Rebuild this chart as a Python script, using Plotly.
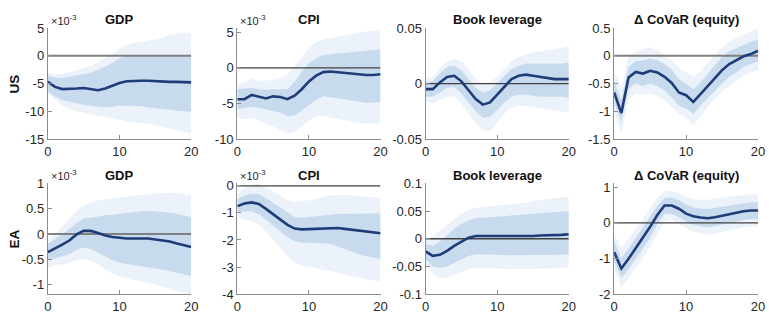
import plotly.graph_objects as go

# horizon
horizon = list(range(21))

# ---------------- US ----------------
us_gdp_med = [-4.7, -5.6, -6.0, -6.0, -5.9, -5.8, -6.0, -6.2, -5.9, -5.4, -4.9, -4.6, -4.5, -4.5, -4.5, -4.6, -4.6, -4.7, -4.7, -4.7, -4.8]
us_gdp_in_hi = [-3.6, -3.9, -4.0, -3.8, -3.6, -3.3, -3.0, -2.5, -2.0, -1.2, -0.5, 0.0, 0.1, 0.1, 0.1, 0.1, 0.1, 0.1, 0.2, 0.2, 0.2]
us_gdp_in_lo = [-6.5, -7.4, -8.0, -8.3, -8.5, -8.8, -9.0, -9.2, -9.3, -9.2, -9.0, -9.0, -9.0, -9.1, -9.3, -9.4, -9.6, -9.7, -9.9, -10.0, -10.1]
us_gdp_out_hi = [-3.0, -3.4, -3.3, -3.0, -2.6, -2.2, -1.8, -1.2, -0.5, 0.3, 1.3, 2.0, 2.3, 2.5, 2.8, 3.0, 3.2, 3.8, 4.0, 4.1, 4.2]
us_gdp_out_lo = [-6.8, -7.8, -9.0, -9.6, -10.0, -10.3, -10.5, -10.8, -11.0, -11.3, -11.5, -11.8, -12.0, -12.1, -12.2, -12.5, -12.8, -13.2, -13.5, -13.8, -14.0]

us_cpi_med = [-4.4, -4.4, -3.8, -4.1, -4.3, -4.0, -4.1, -4.4, -3.9, -3.0, -1.9, -1.1, -0.6, -0.5, -0.6, -0.8, -0.9, -1.0, -1.0, -1.0, -0.9]
us_cpi_in_hi = [-3.0, -2.9, -2.8, -3.0, -3.1, -3.0, -3.0, -3.0, -2.0, -0.5, 0.6, 1.3, 1.8, 1.9, 2.0, 2.0, 2.1, 2.2, 2.3, 2.5, 2.6]
us_cpi_in_lo = [-5.8, -5.7, -5.5, -5.6, -5.8, -6.0, -6.3, -6.8, -6.7, -6.0, -5.2, -4.5, -4.0, -4.1, -4.2, -4.4, -4.6, -4.8, -4.9, -4.9, -4.8]
us_cpi_out_hi = [-2.3, -2.0, -1.5, -1.8, -1.8, -1.6, -1.5, -1.0, 0.2, 1.5, 2.8, 3.6, 4.0, 4.2, 4.3, 4.5, 4.7, 4.9, 5.1, 5.2, 5.3]
us_cpi_out_lo = [-7.0, -7.2, -7.0, -7.4, -7.8, -8.2, -8.7, -9.2, -9.0, -8.2, -7.4, -6.8, -6.7, -7.0, -7.2, -7.4, -7.6, -7.7, -7.8, -7.8, -7.8]

us_lev_med = [-0.005, -0.005, 0.001, 0.006, 0.007, 0.002, -0.006, -0.014, -0.019, -0.017, -0.010, -0.003, 0.004, 0.007, 0.008, 0.007, 0.006, 0.005, 0.004, 0.004, 0.004]
us_lev_in_hi = [0.001, 0.002, 0.009, 0.015, 0.016, 0.012, 0.004, -0.004, -0.008, -0.006, 0.000, 0.007, 0.013, 0.016, 0.018, 0.018, 0.018, 0.018, 0.018, 0.018, 0.019]
us_lev_in_lo = [-0.012, -0.012, -0.008, -0.004, -0.003, -0.009, -0.017, -0.025, -0.031, -0.030, -0.024, -0.017, -0.012, -0.010, -0.010, -0.011, -0.012, -0.012, -0.012, -0.012, -0.013]
us_lev_out_hi = [0.005, 0.006, 0.014, 0.020, 0.022, 0.020, 0.013, 0.004, -0.001, 0.001, 0.006, 0.013, 0.020, 0.024, 0.026, 0.028, 0.029, 0.030, 0.031, 0.032, 0.033]
us_lev_out_lo = [-0.016, -0.018, -0.015, -0.012, -0.012, -0.018, -0.027, -0.036, -0.042, -0.043, -0.035, -0.027, -0.022, -0.020, -0.020, -0.021, -0.022, -0.023, -0.024, -0.025, -0.026]

us_cov_med = [-0.66, -1.03, -0.39, -0.29, -0.32, -0.27, -0.30, -0.38, -0.49, -0.66, -0.71, -0.83, -0.69, -0.54, -0.39, -0.26, -0.15, -0.08, -0.01, 0.03, 0.09]
us_cov_in_hi = [-0.45, -0.80, -0.20, -0.10, -0.08, -0.05, -0.08, -0.15, -0.25, -0.42, -0.50, -0.60, -0.48, -0.32, -0.16, -0.02, 0.08, 0.14, 0.20, 0.25, 0.30]
us_cov_in_lo = [-0.85, -1.20, -0.60, -0.50, -0.55, -0.50, -0.55, -0.62, -0.75, -0.90, -0.95, -1.05, -0.90, -0.76, -0.62, -0.50, -0.38, -0.30, -0.20, -0.15, -0.10]
us_cov_out_hi = [-0.25, -0.60, 0.00, 0.08, 0.12, 0.15, 0.10, 0.02, -0.08, -0.22, -0.30, -0.38, -0.28, -0.12, 0.02, 0.15, 0.25, 0.32, 0.38, 0.44, 0.48]
us_cov_out_lo = [-1.00, -1.40, -0.78, -0.68, -0.70, -0.68, -0.72, -0.80, -0.92, -1.05, -1.12, -1.25, -1.10, -0.92, -0.78, -0.65, -0.55, -0.45, -0.36, -0.30, -0.25]

# ---------------- EA ----------------
ea_gdp_med = [-0.36, -0.29, -0.21, -0.13, -0.01, 0.06, 0.06, 0.02, -0.03, -0.06, -0.08, -0.09, -0.09, -0.09, -0.09, -0.11, -0.13, -0.15, -0.19, -0.22, -0.26]
ea_gdp_in_hi = [-0.20, -0.10, 0.00, 0.10, 0.22, 0.30, 0.32, 0.35, 0.37, 0.38, 0.40, 0.42, 0.44, 0.45, 0.46, 0.45, 0.44, 0.42, 0.40, 0.37, 0.33]
ea_gdp_in_lo = [-0.52, -0.48, -0.44, -0.40, -0.32, -0.27, -0.30, -0.37, -0.45, -0.52, -0.57, -0.60, -0.62, -0.64, -0.66, -0.68, -0.71, -0.74, -0.77, -0.80, -0.83]
ea_gdp_out_hi = [-0.12, 0.00, 0.15, 0.30, 0.45, 0.57, 0.63, 0.66, 0.68, 0.71, 0.73, 0.75, 0.76, 0.77, 0.79, 0.80, 0.81, 0.81, 0.81, 0.79, 0.77]
ea_gdp_out_lo = [-0.68, -0.62, -0.60, -0.58, -0.52, -0.49, -0.53, -0.60, -0.70, -0.78, -0.84, -0.88, -0.91, -0.94, -0.97, -1.00, -1.05, -1.10, -1.14, -1.17, -1.19]

ea_cpi_med = [-0.75, -0.65, -0.61, -0.67, -0.85, -1.05, -1.26, -1.44, -1.58, -1.61, -1.60, -1.59, -1.56, -1.55, -1.56, -1.59, -1.62, -1.66, -1.69, -1.73, -1.75]
ea_cpi_in_hi = [-0.50, -0.35, -0.28, -0.30, -0.45, -0.62, -0.80, -0.98, -1.15, -1.18, -1.15, -1.12, -1.08, -1.05, -1.04, -1.03, -1.03, -1.03, -1.03, -1.02, -1.02]
ea_cpi_in_lo = [-1.00, -0.95, -0.95, -1.05, -1.25, -1.47, -1.70, -1.90, -2.05, -2.10, -2.10, -2.10, -2.12, -2.15, -2.25, -2.35, -2.45, -2.53, -2.60, -2.65, -2.70]
ea_cpi_out_hi = [-0.30, -0.10, 0.05, 0.07, -0.05, -0.20, -0.38, -0.52, -0.60, -0.57, -0.53, -0.48, -0.42, -0.35, -0.33, -0.33, -0.35, -0.37, -0.40, -0.43, -0.45]
ea_cpi_out_lo = [-1.20, -1.25, -1.30, -1.45, -1.70, -2.00, -2.30, -2.60, -2.85, -2.95, -3.00, -3.05, -3.10, -3.15, -3.20, -3.28, -3.35, -3.40, -3.45, -3.50, -3.52]

ea_lev_med = [-0.023, -0.031, -0.029, -0.022, -0.013, -0.005, 0.002, 0.005, 0.005, 0.005, 0.005, 0.004, 0.004, 0.005, 0.005, 0.005, 0.006, 0.006, 0.007, 0.007, 0.008]
ea_lev_in_hi = [-0.010, -0.012, -0.005, 0.007, 0.018, 0.027, 0.033, 0.037, 0.038, 0.039, 0.040, 0.041, 0.042, 0.043, 0.044, 0.045, 0.046, 0.047, 0.048, 0.049, 0.050]
ea_lev_in_lo = [-0.037, -0.050, -0.053, -0.050, -0.044, -0.037, -0.031, -0.028, -0.028, -0.028, -0.029, -0.030, -0.030, -0.030, -0.030, -0.030, -0.030, -0.030, -0.029, -0.029, -0.028]
ea_lev_out_hi = [0.000, 0.005, 0.015, 0.025, 0.035, 0.045, 0.052, 0.056, 0.058, 0.059, 0.060, 0.061, 0.062, 0.063, 0.065, 0.068, 0.070, 0.072, 0.074, 0.075, 0.076]
ea_lev_out_lo = [-0.045, -0.062, -0.072, -0.070, -0.065, -0.060, -0.055, -0.053, -0.053, -0.053, -0.054, -0.055, -0.055, -0.055, -0.055, -0.055, -0.055, -0.055, -0.054, -0.053, -0.052]

ea_cov_med = [-0.82, -1.28, -1.01, -0.72, -0.42, -0.11, 0.22, 0.49, 0.49, 0.40, 0.26, 0.19, 0.15, 0.13, 0.16, 0.20, 0.26, 0.29, 0.33, 0.35, 0.35]
ea_cov_in_hi = [-0.50, -1.00, -0.72, -0.42, -0.12, 0.20, 0.48, 0.70, 0.72, 0.64, 0.52, 0.44, 0.40, 0.39, 0.42, 0.46, 0.50, 0.53, 0.56, 0.58, 0.58]
ea_cov_in_lo = [-1.08, -1.55, -1.30, -1.02, -0.72, -0.42, -0.04, 0.25, 0.26, 0.16, 0.03, -0.05, -0.10, -0.12, -0.09, -0.05, 0.00, 0.05, 0.08, 0.10, 0.10]
ea_cov_out_hi = [-0.30, -0.72, -0.45, -0.18, 0.12, 0.42, 0.70, 0.88, 0.90, 0.84, 0.74, 0.68, 0.65, 0.65, 0.68, 0.71, 0.74, 0.77, 0.79, 0.80, 0.80]
ea_cov_out_lo = [-1.30, -1.80, -1.55, -1.25, -0.98, -0.68, -0.30, 0.05, 0.08, -0.02, -0.15, -0.25, -0.30, -0.33, -0.30, -0.25, -0.20, -0.15, -0.12, -0.10, -0.10]

titles = ["GDP", "CPI", "Book leverage", "Δ CoVaR (equity)"] * 2
row_labels = ["US", "EA"]
scale_flags = [True, True, False, False, True, True, False, False]

yranges = [[-15, 5], [-10, 5.6], [-0.05, 0.05], [-1.5, 0.5],
           [-1.19, 1], [-4, 0.09], [-0.1, 0.1], [-2, 1.11]]
ytickvals = [[-15, -10, -5, 0, 5], [-10, -5, 0, 5], [-0.05, 0, 0.05], [-1.5, -1, -0.5, 0, 0.5],
             [-1, -0.5, 0, 0.5, 1], [-4, -3, -2, -1, 0], [-0.1, -0.05, 0, 0.05, 0.1], [-2, -1, 0, 1]]
yticktext = [["-15", "-10", "-5", "0", "5"], ["-10", "-5", "0", "5"], ["-0.05", "0", "0.05"],
             ["-1.5", "-1", "-0.5", "0", "0.5"], ["-1", "-0.5", "0", "0.5", "1"],
             ["-4", "-3", "-2", "-1", "0"], ["-0.1", "-0.05", "0", "0.05", "0.1"], ["-2", "-1", "0", "1"]]
xtickvals = [0, 10, 20]

panels = [
    (us_gdp_med, us_gdp_in_hi, us_gdp_in_lo, us_gdp_out_hi, us_gdp_out_lo),
    (us_cpi_med, us_cpi_in_hi, us_cpi_in_lo, us_cpi_out_hi, us_cpi_out_lo),
    (us_lev_med, us_lev_in_hi, us_lev_in_lo, us_lev_out_hi, us_lev_out_lo),
    (us_cov_med, us_cov_in_hi, us_cov_in_lo, us_cov_out_hi, us_cov_out_lo),
    (ea_gdp_med, ea_gdp_in_hi, ea_gdp_in_lo, ea_gdp_out_hi, ea_gdp_out_lo),
    (ea_cpi_med, ea_cpi_in_hi, ea_cpi_in_lo, ea_cpi_out_hi, ea_cpi_out_lo),
    (ea_lev_med, ea_lev_in_hi, ea_lev_in_lo, ea_lev_out_hi, ea_lev_out_lo),
    (ea_cov_med, ea_cov_in_hi, ea_cov_in_lo, ea_cov_out_hi, ea_cov_out_lo),
]

# styles
W, H = 769, 324
OUTER = "#ebf2fa"
INNER = "#c8dbee"
LINE = "#1f3b78"
AXIS = "#8c8c8c"
zero_styles = ["#808080", "#404040", "#404040", "#808080", "#808080", "#404040", "#404040", "#404040"]
zero_widths = [2.0, 1.3, 1.3, 2.0, 2.0, 1.3, 1.3, 1.3]
FONT = "Liberation Sans, Arial, Helvetica, sans-serif"

xdom_px = [(44.5, 190), (236.7, 382), (427.7, 573), (619, 765)]
ydom_px = [(22, 138.5), (185, 301)]

fig = go.Figure()
layout = dict(width=W, height=H, margin=dict(l=0, r=0, t=0, b=0),
              paper_bgcolor="white", plot_bgcolor="white", showlegend=False,
              font=dict(family=FONT, size=12, color="#262626"))
annotations = []

for i, (med, ihi, ilo, ohi, olo) in enumerate(panels):
    r, c = divmod(i, 4)
    xa = "x" if i == 0 else f"x{i+1}"
    ya = "y" if i == 0 else f"y{i+1}"
    xk = "xaxis" if i == 0 else f"xaxis{i+1}"
    yk = "yaxis" if i == 0 else f"yaxis{i+1}"
    # bands
    fig.add_trace(go.Scatter(x=horizon, y=olo, xaxis=xa, yaxis=ya, mode="lines",
                             line=dict(width=0, color=OUTER), hoverinfo="skip"))
    fig.add_trace(go.Scatter(x=horizon, y=ohi, xaxis=xa, yaxis=ya, mode="lines",
                             line=dict(width=0, color=OUTER), fill="tonexty", fillcolor=OUTER, hoverinfo="skip"))
    fig.add_trace(go.Scatter(x=horizon, y=ilo, xaxis=xa, yaxis=ya, mode="lines",
                             line=dict(width=0, color=INNER), hoverinfo="skip"))
    fig.add_trace(go.Scatter(x=horizon, y=ihi, xaxis=xa, yaxis=ya, mode="lines",
                             line=dict(width=0, color=INNER), fill="tonexty", fillcolor=INNER, hoverinfo="skip"))
    # zero line
    fig.add_trace(go.Scatter(x=[horizon[0], horizon[-1]], y=[0, 0], xaxis=xa, yaxis=ya, mode="lines",
                             line=dict(width=zero_widths[i], color=zero_styles[i]), hoverinfo="skip"))
    # median
    fig.add_trace(go.Scatter(x=horizon, y=med, xaxis=xa, yaxis=ya, mode="lines",
                             line=dict(width=2.6, color=LINE, shape="linear")))

    x0, x1 = xdom_px[c]
    ytop, ybot = ydom_px[r]
    layout[xk] = dict(domain=[x0 / W, x1 / W], range=[0, 20], anchor=ya,
                      tickvals=xtickvals, ticktext=[str(v) for v in xtickvals],
                      showgrid=False, zeroline=False, showline=True, linecolor=AXIS, linewidth=1.2,
                      ticks="inside", ticklen=4, tickcolor=AXIS, tickfont=dict(size=13, color="#262626"))
    layout[yk] = dict(domain=[1 - ybot / H, 1 - ytop / H], range=yranges[i], anchor=xa,
                      tickvals=ytickvals[i], ticktext=yticktext[i],
                      showgrid=False, zeroline=False, showline=True, linecolor=AXIS, linewidth=1.2,
                      ticks="inside", ticklen=4, tickcolor=AXIS, tickfont=dict(size=13, color="#262626"))
    # title
    annotations.append(dict(text=f"<b>{titles[i]}</b>", xref=f"{xa} domain", yref=f"{ya} domain",
                            x=0.5, y=1.0, yshift=8, xanchor="center", yanchor="middle",
                            showarrow=False, font=dict(size=13, color="#111111", family=FONT)))
    if scale_flags[i]:
        annotations.append(dict(text="×10<sup>-3</sup>", xref=f"{xa} domain", yref=f"{ya} domain",
                                x=0.0, y=1.0, xshift=1, yshift=-1, xanchor="left", yanchor="bottom",
                                showarrow=False, font=dict(size=11, color="#262626", family=FONT)))

for r, lab in enumerate(row_labels):
    ytop, ybot = ydom_px[r]
    annotations.append(dict(text=f"<b>{lab}</b>", xref="paper", yref="paper",
                            x=11 / W, y=1 - (ytop + ybot) / 2 / H, xanchor="center", yanchor="middle",
                            textangle=-90, showarrow=False, font=dict(size=13.5, color="#111111", family=FONT)))

layout["annotations"] = annotations
fig.update_layout(**layout)
fig.write_html("out.html")
